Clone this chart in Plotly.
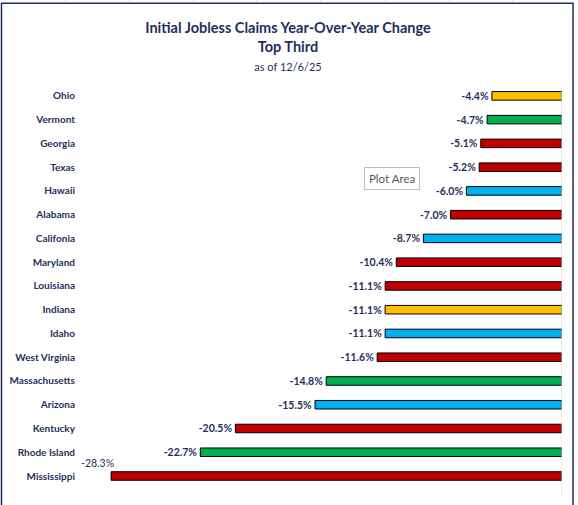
import plotly.graph_objects as go

# dati (variazione % anno su anno)
states = ["Ohio", "Vermont", "Georgia", "Texas", "Hawaii", "Alabama", "Califonia",
          "Maryland", "Louisiana", "Indiana", "Idaho", "West Virginia",
          "Massachusetts", "Arizona", "Kentucky", "Rhode Island", "Mississippi"]
yoy_change = [-4.4, -4.7, -5.1, -5.2, -6.0, -7.0, -8.7, -10.4, -11.1, -11.1,
              -11.1, -11.6, -14.8, -15.5, -20.5, -22.7, -28.3]
bar_colors = ["#FFC000", "#00B050", "#C00000", "#C00000", "#00B0F0", "#C00000",
              "#00B0F0", "#C00000", "#C00000", "#FFC000", "#00B0F0", "#C00000",
              "#00B050", "#00B0F0", "#C00000", "#00B050", "#C00000"]

NAVY = "#1F2F5C"
FONT = "Lato"

labels = [f"{v:.1f}%" for v in yoy_change]
positions = ["outside"] * len(states)
positions[-1] = "none"   # etichetta Mississippi spostata sopra la barra

fig = go.Figure()
fig.add_trace(go.Bar(
    x=yoy_change,
    y=states,
    orientation="h",
    width=0.36,
    marker=dict(color=bar_colors, line=dict(color="black", width=1)),
    text=labels,
    textposition=positions,
    constraintext="none",
    textfont=dict(family=FONT, size=10.5, color=NAVY, weight="bold"),
    cliponaxis=False,
    hoverinfo="skip",
    showlegend=False,
))

# etichetta Mississippi, sopra a sinistra come nell'originale
fig.add_annotation(
    x=yoy_change[-1], y=states[-1], text=labels[-1],
    showarrow=False, xanchor="center", yanchor="bottom", xshift=-14, yshift=5,
    font=dict(family=FONT, size=10.5, color=NAVY),
)

# "Plot Area" tooltip di Excel
fig.add_annotation(
    x=(392 - 84) / 478, y=(488 - 176) / 404, xref="paper", yref="paper",
    xanchor="center", yanchor="middle",
    text="Plot Area", showarrow=False,
    font=dict(family=FONT, size=11.5, color="#595959"),
    bgcolor="white", bordercolor="#BFBFBF", borderwidth=1, borderpad=4,
)

# asse verticale a destra (x = 0)
fig.add_shape(type="line", xref="x", yref="paper", x0=0, x1=0, y0=0, y1=0.99,
              line=dict(color="#D9D9D9", width=1))

# bordo del grafico
fig.add_shape(type="rect", xref="paper", yref="paper",
              x0=(1.5 - 84) / 478, x1=(573 - 84) / 478,
              y0=(488 - 500) / 404, y1=(488 - 5) / 404,
              line=dict(color="#1F2F5C", width=1.5), layer="below")

# griglia del foglio di lavoro sopra il grafico
for px in [66, 130, 194, 257, 321, 386, 450, 513]:
    fig.add_shape(type="line", xref="paper", yref="paper",
                  x0=(px - 84) / 478, x1=(px - 84) / 478,
                  y0=(488 - 4) / 404, y1=(488 - 0) / 404,
                  line=dict(color="#D0D7E0", width=1))

fig.update_layout(
    width=578, height=505,
    margin=dict(l=84, r=16, t=84, b=8),
    paper_bgcolor="white", plot_bgcolor="white",
    title=dict(
        text=("<b>Initial Jobless Claims Year-Over-Year Change</b><br>"
              "<b>Top Third</b><br>"
              "<span style='font-size:11px'>as of 12/6/25</span>"),
        x=(288 - 0) / 578, xanchor="center", y=0.935, yanchor="top",
        font=dict(family=FONT, size=14.5, color=NAVY),
    ),
    xaxis=dict(range=[-30, 0], visible=False, fixedrange=True, automargin=False),
    yaxis=dict(
        autorange="reversed", showgrid=False, showline=False, ticks="",
        ticklabelstandoff=8, automargin=False,
        tickfont=dict(family=FONT, size=10, color=NAVY, weight="bold"),
    ),
    bargap=0.64,
    font=dict(family=FONT),
)

fig.write_html("out.html", config={"displayModeBar": False},
               post_script="document.body.style.margin='0';")
